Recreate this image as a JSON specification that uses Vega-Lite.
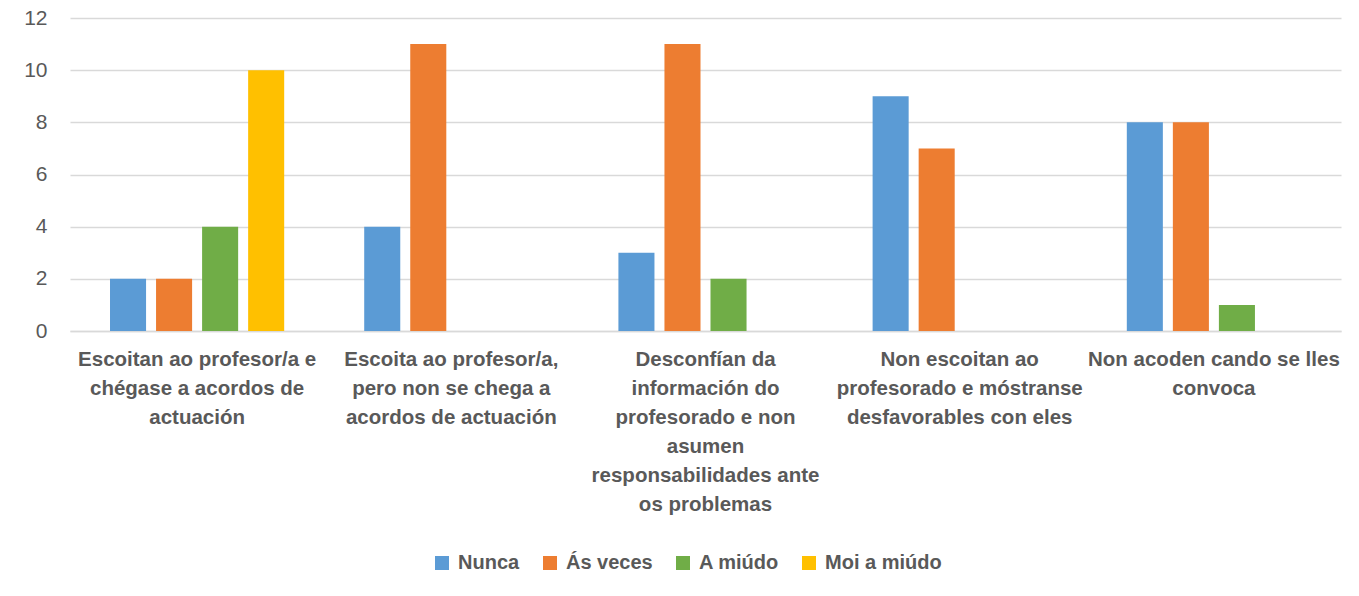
{
  "$schema": "https://vega.github.io/schema/vega-lite/v6.json",
  "width": 1271,
  "height": 313,
  "autosize": {"type": "none"},
  "padding": {"left": 70, "top": 18, "right": 18, "bottom": 265},
  "background": "white",
  "config": {"view": {"stroke": null}, "font": "Liberation Sans"},
  "data": {"values": [
    {"cat": "Escoitan ao profesor/a e|chégase a acordos de|actuación", "series": "Nunca", "value": 2},
    {"cat": "Escoitan ao profesor/a e|chégase a acordos de|actuación", "series": "Ás veces", "value": 2},
    {"cat": "Escoitan ao profesor/a e|chégase a acordos de|actuación", "series": "A miúdo", "value": 4},
    {"cat": "Escoitan ao profesor/a e|chégase a acordos de|actuación", "series": "Moi a miúdo", "value": 10},
    {"cat": "Escoita ao profesor/a,|pero non se chega a|acordos de actuación", "series": "Nunca", "value": 4},
    {"cat": "Escoita ao profesor/a,|pero non se chega a|acordos de actuación", "series": "Ás veces", "value": 11},
    {"cat": "Desconfían da|información do|profesorado e non|asumen|responsabilidades ante|os problemas", "series": "Nunca", "value": 3},
    {"cat": "Desconfían da|información do|profesorado e non|asumen|responsabilidades ante|os problemas", "series": "Ás veces", "value": 11},
    {"cat": "Desconfían da|información do|profesorado e non|asumen|responsabilidades ante|os problemas", "series": "A miúdo", "value": 2},
    {"cat": "Non escoitan ao|profesorado e móstranse|desfavorables con eles", "series": "Nunca", "value": 9},
    {"cat": "Non escoitan ao|profesorado e móstranse|desfavorables con eles", "series": "Ás veces", "value": 7},
    {"cat": "Non acoden cando se lles|convoca", "series": "Nunca", "value": 8},
    {"cat": "Non acoden cando se lles|convoca", "series": "Ás veces", "value": 8},
    {"cat": "Non acoden cando se lles|convoca", "series": "A miúdo", "value": 1}
  ]},
  "mark": {"type": "bar"},
  "encoding": {
    "x": {
      "field": "cat", "type": "nominal", "sort": null,
      "scale": {"paddingInner": 0, "paddingOuter": 0},
      "axis": {
        "title": null, "labelAngle": 0, "labelExpr": "split(datum.label, '|')",
        "labelFontSize": 20.5, "labelFontWeight": "bold", "labelColor": "#595959",
        "labelLineHeight": 29, "labelPadding": 18, "ticks": false,
        "domainColor": "#D9D9D9", "domainWidth": 1.5, "labelLimit": 0
      }
    },
    "xOffset": {
      "field": "series", "type": "nominal",
      "scale": {"domain": ["Nunca", "Ás veces", "A miúdo", "Moi a miúdo"], "paddingInner": 0.217, "paddingOuter": 0.869}
    },
    "y": {
      "field": "value", "type": "quantitative",
      "scale": {"domain": [0, 12]},
      "axis": {
        "title": null, "values": [0, 2, 4, 6, 8, 10, 12], "domain": false, "ticks": false,
        "gridColor": "#D9D9D9", "gridWidth": 1.3,
        "labelFontSize": 21, "labelColor": "#595959", "labelPadding": 23
      }
    },
    "color": {
      "field": "series", "type": "nominal",
      "scale": {"domain": ["Nunca", "Ás veces", "A miúdo", "Moi a miúdo"], "range": ["#5B9BD5", "#ED7D31", "#70AD47", "#FFC000"]},
      "legend": {
        "title": null, "orient": "none", "legendX": 362, "legendY": 535, "direction": "horizontal",
        "symbolType": "square", "symbolSize": 196, "symbolStrokeWidth": 0,
        "labelFontSize": 20, "labelFontWeight": "bold", "labelColor": "#595959",
        "labelOffset": 6, "columnPadding": 20
      }
    }
  }
}
